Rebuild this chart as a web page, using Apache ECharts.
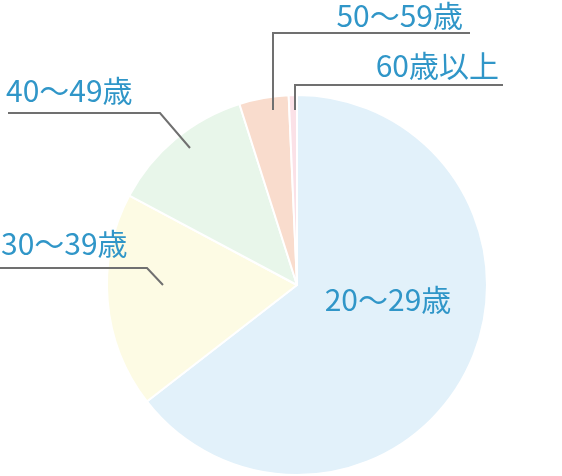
<!DOCTYPE html>
<html>
<head>
<meta charset="utf-8">
<script src="https://cdn.jsdelivr.net/npm/echarts@6/dist/echarts.min.js"></script>
<style>
html, body { margin: 0; background: #fff; }
#chart { width: 562px; height: 476px; }
</style>
</head>
<body>
<div id="chart"></div>
<script>
const categories = ['20～29歳', '30～39歳', '40～49歳', '50～59歳', '60歳以上'];
const values = [64.5, 18.3, 12.3, 4.2, 0.7];
const colors = ['#e2f1fa', '#fdfbe4', '#e8f6ea', '#f9dccd', '#fbe1e7'];

// where each label sits and how its leader line bends
const labelPlace = [
  { x: 388, y: 300, align: 'center' },
  { x: 1, y: 244, align: 'left', line: [[163, 285], [147, 268], [0, 268]] },
  { x: 6, y: 91, align: 'left', line: [[190, 148], [160, 113], [8, 113]] },
  { x: 463, y: 16, align: 'right', line: [[273, 110], [273, 33], [470, 33]] },
  { x: 499, y: 66, align: 'right', line: [[295, 110], [295, 85], [503, 85]] }
];

const chart = echarts.init(document.getElementById('chart'));

const pieBase = {
  type: 'pie',
  center: [297, 285],
  radius: [0, 190],
  startAngle: 90,
  clockwise: true
};

const option = {
  animation: false,
  series: [
    // the slices
    Object.assign({}, pieBase, {
      z: 2,
      silent: true,
      itemStyle: { borderColor: '#fff', borderWidth: 2 },
      label: { show: false },
      labelLine: { show: false },
      data: categories.map((name, i) => ({
        name: name,
        value: values[i],
        itemStyle: { color: colors[i] }
      }))
    }),
    // same pie, invisible, only to put labels and leader lines on top
    Object.assign({}, pieBase, {
      z: 3,
      silent: true,
      itemStyle: { color: 'rgba(0,0,0,0)', borderWidth: 0 },
      label: {
        show: true,
        formatter: '{b}',
        color: '#3096c8',
        fontSize: 30,
        overflow: 'none',
        fontFamily: '"Noto Sans CJK JP", sans-serif'
      },
      labelLine: {
        show: true,
        lineStyle: { color: '#707070', width: 2 }
      },
      labelLayout: function (params) {
        const p = labelPlace[params.dataIndex];
        const out = { x: p.x, y: p.y, align: p.align, verticalAlign: 'middle' };
        if (p.line) out.labelLinePoints = p.line;
        return out;
      },
      data: categories.map((name, i) => ({
        name: name,
        value: values[i],
        labelLine: { show: i > 0 }
      }))
    })
  ]
};

chart.setOption(option);
</script>
</body>
</html>
